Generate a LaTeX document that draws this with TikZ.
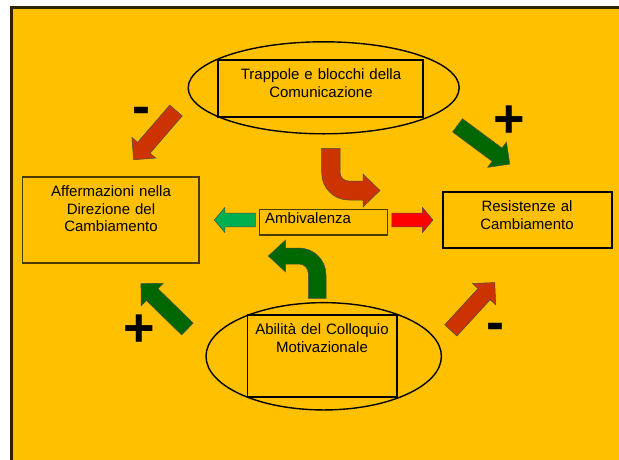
\documentclass[tikz,border=0pt]{standalone}
\usepackage{fontspec}
\setmainfont{Liberation Sans}
\usetikzlibrary{shapes.geometric,shapes.arrows}
\definecolor{Slide}{HTML}{FFC000}
\definecolor{FrameInk}{HTML}{2E2300}
\definecolor{BoxInk}{HTML}{4A3A00}
\definecolor{Brick}{HTML}{CC3300}
\definecolor{Leaf}{HTML}{006600}
\definecolor{Mint}{HTML}{00B050}
\definecolor{Signal}{HTML}{FF0000}
\tikzset{
  oval/.style={ellipse, draw=black, line width=1.4pt, inner sep=0pt},
  panel/.style={rectangle, draw=black, line width=1.3pt, inner sep=0pt},
  softpanel/.style={panel, draw=BoxInk, line width=1.2pt},
  caption/.style={font=\fontsize{15}{18}\selectfont, text width=#1,
    align=center, inner sep=0pt, anchor=base},
  bigarrow/.style={single arrow, draw=black!70, line width=0.5pt, fill=#1,
    inner xsep=0pt, inner ysep=8pt, minimum width=31pt,
    single arrow head extend=7.5pt, single arrow tip angle=90,
    minimum height=65pt, anchor=tip},
  smallarrow/.style={single arrow, draw=black!70, line width=0.5pt, fill=#1,
    inner xsep=0pt, inner ysep=6.7pt, minimum width=24.6pt,
    single arrow head extend=5.6pt, single arrow tip angle=100,
    minimum height=41pt, anchor=tip},
  bentarrow/.style={draw=black!70, line width=0.5pt, fill=#1},
  sign/.style={font=\fontsize{54}{54}\selectfont\bfseries, inner sep=0pt, anchor=base}
}

\begin{document}
\begin{tikzpicture}[x=1pt,y=-1pt]
  \useasboundingbox (0,0) rectangle (619,459);
  \clip (0,0) rectangle (619,459);
  \fill[white] (0,0) rectangle (619,459);
  \draw[FrameInk, line width=3pt, fill=Slide] (11.5,7.3) rectangle (640,480);

  % top: trappole
  \node[oval, minimum width=271pt, minimum height=92pt] (trapoval) at (323.7,87.8) {};
  \node[panel, minimum width=205pt, minimum height=57pt] (trapbox) at (320.5,88.5) {};
  \node[caption=200pt] (traptext) at (321,79.5) {Trappole e blocchi della\\Comunicazione};

  % bottom: abilita
  \node[oval, minimum width=235.4pt, minimum height=107.3pt] (skilloval) at (323.7,356.3) {};
  \node[panel, minimum width=149.5pt, minimum height=82pt] (skillbox) at (322.2,356) {};
  \node[caption=145pt] (skilltext) at (322,334) {Abilità del Colloquio\\Motivazionale};

  % side boxes
  \node[softpanel, minimum width=176.5pt, minimum height=86pt] (changebox) at (110.7,220) {};
  \node[caption=170pt, font=\fontsize{15}{17.5}\selectfont] (changetext) at (111,196.5)
    {Affermazioni nella\\Direzione del\\Cambiamento};
  \node[panel, line width=1.2pt, minimum width=169pt, minimum height=56pt] (resistbox) at (527.5,220) {};
  \node[caption=165pt] (resisttext) at (527,211.5) {Resistenze al\\Cambiamento};

  % middle
  \node[softpanel, minimum width=128.4pt, minimum height=25.7pt] (ambibox) at (323.5,222.1) {};
  \node[font=\fontsize{15}{18}\selectfont, inner sep=0pt, anchor=base west] (ambitext) at (265,223.3) {Ambivalenza};
  \node[smallarrow=Mint, rotate=180] (toleft) at (214,220) {};
  \node[smallarrow=Signal] (toright) at (433.3,220) {};

  % block arrows
  \node[bigarrow=Brick, rotate=-130.8] (trapchange) at (133.3,160) {};
  \node[bigarrow=Leaf, rotate=-36.6] (trapresist) at (510,164.3) {};
  \node[bigarrow=Leaf, rotate=135.6] (skillchange) at (140.7,283.3) {};
  \node[bigarrow=Brick, rotate=47.4] (skillresist) at (495,282.3) {};

  % bent arrows
  \draw[bentarrow=Brick] (321.7,148.3) -- (340,148.3) -- (340,172.5)
    arc[start angle=180, end angle=90, radius=8.5] -- (363,181) -- (363,174)
    -- (380,190.5) -- (363,207) -- (363,200) -- (348.7,200)
    arc[start angle=90, end angle=180, radius=27] -- cycle;
  \draw[bentarrow=Leaf] (308.3,298.3) -- (326,298.3) -- (326,275)
    arc[start angle=0, end angle=-90, radius=27] -- (285.7,248) -- (285.7,240)
    -- (268.3,256) -- (285.7,272) -- (285.7,264) -- (299,264)
    arc[start angle=-90, end angle=0, radius=9.3] -- cycle;

  % signs
  \node[sign] (minustop) at (141.5,124.7) {-};
  \node[sign] (plustop) at (509,137.5) {+};
  \node[sign] (plusbottom) at (139,346.6) {+};
  \node[sign] (minusbottom) at (495.3,340.8) {-};
\end{tikzpicture}
\end{document}
